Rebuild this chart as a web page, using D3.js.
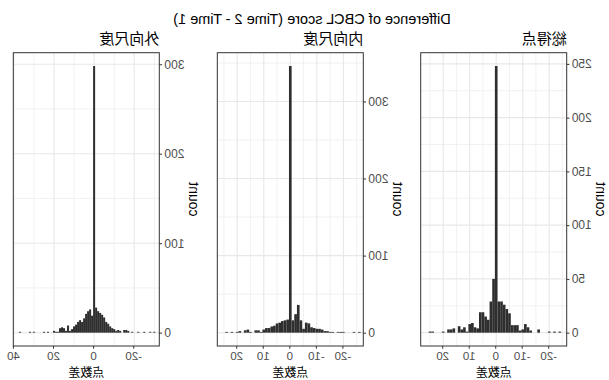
<!DOCTYPE html>
<html>
<head>
<meta charset="utf-8">
<script src="https://cdn.jsdelivr.net/npm/d3@7"></script>
<style>
  body { margin: 0; background: #ffffff; }
  svg { display: block; }
</style>
</head>
<body>
<svg id="chart" width="609" height="380"></svg>
<script>
// Histogram data: score difference (integer) and number of children per difference.
const panelTitles = ["総得点", "内向尺度", "外向尺度"];

const totalScores = [-24, -22, -20, -16, -13, -12, -11, -10, -9, -8, -7, -6, -5, -4, -3, -2, -1, 0,
  1, 2, 3, 4, 5, 6, 7, 8, 9, 10, 11, 12, 13, 14, 16, 17, 18, 20, 24, 25];
const totalCounts = [1, 1, 1, 3, 2, 5, 8, 3, 2, 7, 7, 7, 18, 22, 26, 29, 29, 248,
  50, 29, 12, 15, 19, 19, 4, 5, 9, 8, 1, 5, 3, 6, 4, 3, 3, 1, 1, 1];

const internalScores = [-26, -24, -20, -19, -18, -16, -15, -14, -13, -12, -11, -10, -9, -8, -7, -6, -5, -4, -3, -2, -1, 0,
  1, 2, 3, 4, 5, 6, 7, 8, 9, 10, 11, 12, 13, 15, 16, 17, 19, 20, 22, 24];
const internalCounts = [1, 1, 1, 1, 1, 1, 1, 2, 2, 4, 5, 5, 6, 7, 12, 13, 5, 16, 36, 24, 16, 346,
  17, 16, 15, 13, 12, 9, 8, 6, 6, 4, 1, 3, 3, 1, 4, 3, 2, 1, 1, 1];

const externalScores = [-30, -28, -25, -22, -19, -17, -16, -15, -13, -12, -11, -10, -9, -8, -7, -6, -5, -4, -3, -2, -1, 0,
  1, 2, 3, 4, 5, 6, 7, 8, 9, 10, 11, 12, 13, 14, 15, 16, 17, 18, 19, 20, 23, 25, 30, 32, 37];
const externalCounts = [1, 1, 1, 1, 1, 2, 3, 3, 2, 3, 2, 4, 5, 7, 10, 12, 17, 20, 22, 24, 28, 298,
  19, 26, 24, 21, 16, 12, 14, 12, 9, 7, 4, 2, 8, 2, 5, 6, 5, 1, 1, 2, 1, 1, 1, 1, 1];

const xLimits = [[-26.6, 28.5], [-27.5, 27.5], [-32.5, 40.3]];
const xTickValues = [[-20, -10, 0, 10, 20], [-20, -10, 0, 10, 20], [-20, 0, 20, 40]];
const yTickValues = [[0, 50, 100, 150, 200, 250], [0, 100, 200, 300], [0, 100, 200, 300]];

const chartTitle = "Difference of CBCL score (Time 2 - Time 1)";
const xAxisTitle = "点数差";
const yAxisTitle = "count";

const panels = [
  { title: panelTitles[0], scores: totalScores, counts: totalCounts, xLim: xLimits[0], xTicks: xTickValues[0], yTicks: yTickValues[0] },
  { title: panelTitles[1], scores: internalScores, counts: internalCounts, xLim: xLimits[1], xTicks: xTickValues[1], yTicks: yTickValues[1] },
  { title: panelTitles[2], scores: externalScores, counts: externalCounts, xLim: xLimits[2], xTicks: xTickValues[2], yTicks: yTickValues[2] }
];

// Layout
const W = 609, H = 380;
const panelLefts = [42.3, 245.7, 449.7];
const panelWidth = 146;
const plotTop = 52.7, plotBottom = 346;

const latin = "'Liberation Sans', Arial, sans-serif";
const cjk = "'Noto Sans CJK JP', 'Noto Sans CJK SC', sans-serif";
const gridColor = "#e8e8e8";
const inkColor = "#333333";
const tickTextColor = "#4d4d4d";
const barColor = "#2e2e2e";

// Plain hyphen-minus for negative tick labels.
const plainNumber = d => String(d);

// Minor breaks sit halfway between major breaks, within the scale limits.
function minorBreaks(majors, lim) {
  const step = majors[1] - majors[0];
  const out = [];
  for (let v = majors[0] - step * 1.5; v <= majors[majors.length - 1] + step * 1.5; v += step) {
    if (v > lim[0] && v < lim[1]) out.push(v);
  }
  return out;
}

const svg = d3.select("#chart");
svg.append("rect").attr("width", W).attr("height", H).attr("fill", "#ffffff");

// The whole figure is drawn right-to-left.
const root = svg.append("g").attr("transform", `translate(${W},0) scale(-1,1)`);

root.append("text")
  .attr("x", 297).attr("y", 23.5)
  .attr("text-anchor", "middle")
  .attr("font-family", latin)
  .attr("font-size", 14.5)
  .attr("fill", "#000")
  .text(chartTitle);

panels.forEach((p, i) => {
  const left = panelLefts[i];
  const right = left + panelWidth;
  const x = d3.scaleLinear().domain(p.xLim).range([left, right]);
  const maxC = d3.max(p.counts);
  const y = d3.scaleLinear().domain([-0.05 * maxC, 1.05 * maxC]).range([plotBottom, plotTop]);

  const g = root.append("g");

  // panel background
  g.append("rect")
    .attr("x", left).attr("y", plotTop)
    .attr("width", panelWidth).attr("height", plotBottom - plotTop)
    .attr("fill", "#ffffff");

  // minor grid
  g.append("g").selectAll("line")
    .data(minorBreaks(p.xTicks, p.xLim))
    .join("line")
    .attr("x1", d => x(d)).attr("x2", d => x(d))
    .attr("y1", plotTop).attr("y2", plotBottom)
    .attr("stroke", gridColor).attr("stroke-width", 0.6);
  g.append("g").selectAll("line")
    .data(minorBreaks(p.yTicks, y.domain()))
    .join("line")
    .attr("x1", left).attr("x2", right)
    .attr("y1", d => y(d)).attr("y2", d => y(d))
    .attr("stroke", gridColor).attr("stroke-width", 0.6);

  // major grid
  g.append("g").selectAll("line")
    .data(p.xTicks)
    .join("line")
    .attr("x1", d => x(d)).attr("x2", d => x(d))
    .attr("y1", plotTop).attr("y2", plotBottom)
    .attr("stroke", gridColor).attr("stroke-width", 1.1);
  g.append("g").selectAll("line")
    .data(p.yTicks)
    .join("line")
    .attr("x1", left).attr("x2", right)
    .attr("y1", d => y(d)).attr("y2", d => y(d))
    .attr("stroke", gridColor).attr("stroke-width", 1.1);

  // histogram bars (bin width 1, centred on each integer difference)
  g.append("g").selectAll("rect")
    .data(d3.zip(p.scores, p.counts))
    .join("rect")
    .attr("x", d => x(d[0] - 0.5))
    .attr("width", d => x(d[0] + 0.5) - x(d[0] - 0.5))
    .attr("y", d => y(d[1]))
    .attr("height", d => y(0) - y(d[1]))
    .attr("fill", barColor);

  // panel border
  g.append("rect")
    .attr("x", left).attr("y", plotTop)
    .attr("width", panelWidth).attr("height", plotBottom - plotTop)
    .attr("fill", "none").attr("stroke", inkColor).attr("stroke-width", 1);

  // x axis
  const xAxis = g.append("g")
    .attr("transform", `translate(0,${plotBottom})`)
    .call(d3.axisBottom(x).tickValues(p.xTicks).tickSize(2.75).tickPadding(3.5).tickFormat(plainNumber));
  xAxis.select(".domain").remove();
  xAxis.selectAll(".tick line").attr("stroke", inkColor).attr("stroke-width", 1);
  xAxis.selectAll(".tick text")
    .attr("font-family", latin).attr("font-size", 11.5).attr("fill", tickTextColor);

  // y axis
  const yAxis = g.append("g")
    .attr("transform", `translate(${left},0)`)
    .call(d3.axisLeft(y).tickValues(p.yTicks).tickSize(2.75).tickPadding(2.3).tickFormat(plainNumber));
  yAxis.select(".domain").remove();
  yAxis.selectAll(".tick line").attr("stroke", inkColor).attr("stroke-width", 1);
  yAxis.selectAll(".tick text")
    .attr("font-family", latin).attr("font-size", 12).attr("fill", tickTextColor);

  // panel title
  g.append("text")
    .attr("x", left).attr("y", 44)
    .attr("font-family", cjk).attr("font-size", 15)
    .attr("fill", "#000")
    .text(p.title);

  // axis titles
  g.append("text")
    .attr("x", (left + right) / 2).attr("y", 376.5)
    .attr("text-anchor", "middle")
    .attr("font-family", cjk).attr("font-size", 12)
    .attr("fill", "#000")
    .text(xAxisTitle);

  g.append("text")
    .attr("transform", `translate(${left - 29.5},${(plotTop + plotBottom) / 2}) rotate(-90)`)
    .attr("text-anchor", "middle")
    .attr("font-family", latin).attr("font-size", 14)
    .attr("fill", "#000")
    .text(yAxisTitle);
});
</script>
</body>
</html>
